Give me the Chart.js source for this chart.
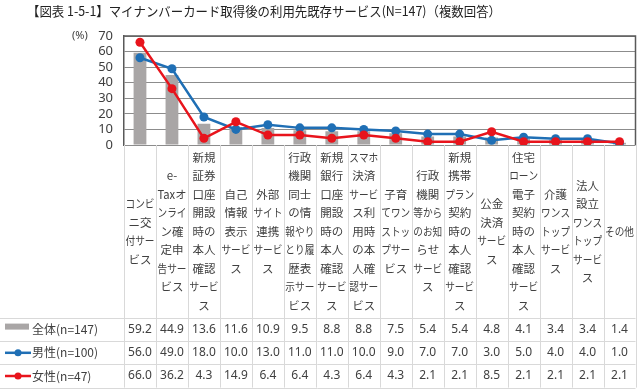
<!DOCTYPE html>
<html><head><meta charset="utf-8">
<script src="https://cdn.jsdelivr.net/npm/chart.js@4/dist/chart.umd.min.js"></script>
<style>html,body{margin:0;padding:0;background:#fff}</style>
</head><body>
<canvas id="c" width="640" height="389"></canvas>
<script>
const TITLE = '【図表 1-5-1】マイナンバーカード取得後の利用先既存サービス(N=147)（複数回答）';
const Y_UNIT = '(%)';
const categories = [
  ['コンビ','ニ交','付サー','ビス'],
  ['e-','Taxオ','ンライ','ン確','定申','告サー','ビス'],
  ['新規','証券','口座','開設','時の','本人','確認','サービ','ス'],
  ['自己','情報','表示','サービ','ス'],
  ['外部','サイト','連携','サービ','ス'],
  ['行政','機関','同士','の情','報やり','とり履','歴表','示サー','ビス'],
  ['新規','銀行','口座','開設','時の','本人','確認','サービ','ス'],
  ['スマホ','決済','サービ','ス利','用時','の本','人確','認サー','ビス'],
  ['子育','てワン','ストッ','プサー','ビス'],
  ['行政','機関','等から','のお知','らせ','サービ','ス'],
  ['新規','携帯','プラン','契約','時の','本人','確認','サービ','ス'],
  ['公金','決済','サービ','ス'],
  ['住宅','ローン','電子','契約','時の','本人','確認','サービ','ス'],
  ['介護','ワンス','トップ','サービ','ス'],
  ['法人','設立','ワンス','トップ','サービ','ス'],
  ['その他']
];
const seriesNames = ['全体(n=147)','男性(n=100)','女性(n=47)'];
const totalValues  = [59.2,44.9,13.6,11.6,10.9,9.5,8.8,8.8,7.5,5.4,5.4,4.8,4.1,3.4,3.4,1.4];
const maleValues   = [56.0,49.0,18.0,10.0,13.0,11.0,11.0,10.0,9.0,7.0,7.0,3.0,5.0,4.0,4.0,1.0];
const femaleValues = [66.0,36.2,4.3,14.9,6.4,6.4,4.3,6.4,4.3,2.1,2.1,8.5,2.1,2.1,2.1,2.1];
const yMin = 0, yMax = 70, yStep = 10;

const COL_BAR = '#a9a6a6', COL_BLUE = '#1f6fb5', COL_RED = '#e8141c';
const TEXT = '#404040', GRIDT = '#d9d9d9';
const NUMFONT = '"Noto Sans", "Noto Sans CJK JP", sans-serif';
const JPFONT = '"Noto Sans CJK JP", sans-serif';

const tablePlugin = {
  id: 'tablePlugin',
  afterDraw(chart) {
    const ctx = chart.ctx, ca = chart.chartArea, xs = chart.scales.x;
    const n = categories.length;
    const colW = (ca.right - ca.left) / n;
    const labelTop = ca.bottom, labelBottom = ca.bottom + 173;
    const rowH = 23.2;
    const rows = [labelBottom, labelBottom + rowH, labelBottom + 2*rowH, labelBottom + 3*rowH];
    ctx.save();
    // title
    ctx.fillStyle = '#222';
    ctx.font = '13px ' + JPFONT;
    ctx.textBaseline = 'middle'; ctx.textAlign = 'left';
    ctx.fillText(TITLE, 27, 11, 474);
    // unit
    ctx.fillStyle = TEXT;
    ctx.font = '11px ' + NUMFONT;
    ctx.fillText(Y_UNIT, 72, ca.top);
    // plot border
    ctx.strokeStyle = '#595959'; ctx.lineWidth = 1.5;
    ctx.beginPath();
    ctx.moveTo(ca.left, ca.top); ctx.lineTo(ca.right, ca.top); ctx.lineTo(ca.right, ca.bottom);
    ctx.stroke();
    // table grid
    ctx.strokeStyle = GRIDT; ctx.lineWidth = 1;
    ctx.beginPath();
    for (let i = 0; i <= n; i++) {
      const x = Math.round(ca.left + i*colW) + 0.5;
      ctx.moveTo(x, labelTop); ctx.lineTo(x, rows[3]);
    }
    rows.forEach(y => { const yy = Math.round(y) + 0.5; ctx.moveTo(0, yy); ctx.lineTo(ca.right, yy); });
    ctx.stroke();
    // category labels
    ctx.fillStyle = TEXT; ctx.textAlign = 'center'; ctx.textBaseline = 'middle';
    ctx.font = '11.5px ' + JPFONT;
    const lh = 18.5, mid = (labelTop + labelBottom) / 2;
    categories.forEach((lines, i) => {
      const cx = xs.getPixelForValue(i);
      lines.forEach((t, j) => ctx.fillText(t, cx, mid + (j - (lines.length - 1)/2) * lh, colW - 3));
    });
    // data rows
    const series = [totalValues, maleValues, femaleValues];
    ctx.font = '12px ' + NUMFONT;
    series.forEach((vals, r) => {
      const cy = (rows[r] + rows[r+1]) / 2;
      vals.forEach((v, i) => ctx.fillText(v.toFixed(1), xs.getPixelForValue(i), cy, colW - 3));
    });
    // legend keys
    ctx.textAlign = 'left';
    ctx.font = '12px ' + JPFONT;
    const keyColors = [COL_BAR, COL_BLUE, COL_RED];
    seriesNames.forEach((name, r) => {
      const cy = (rows[r] + rows[r+1]) / 2;
      if (r === 0) {
        ctx.fillStyle = COL_BAR; ctx.fillRect(5, cy - 6, 24, 6);
      } else {
        ctx.strokeStyle = keyColors[r]; ctx.lineWidth = 2.5;
        ctx.beginPath(); ctx.moveTo(5, cy); ctx.lineTo(31, cy); ctx.stroke();
        ctx.fillStyle = keyColors[r];
        ctx.beginPath(); ctx.arc(18, cy, 3.5, 0, Math.PI*2); ctx.fill();
      }
      ctx.fillStyle = TEXT;
      ctx.fillText(name, 32, cy);
    });
    ctx.restore();
  }
};

new Chart(document.getElementById('c'), {
  type: 'bar',
  data: {
    labels: categories.map(l => l.join('')),
    datasets: [
      { type: 'line', label: seriesNames[2], data: femaleValues, borderColor: COL_RED, backgroundColor: COL_RED,
        borderWidth: 2.5, pointRadius: 4.5, pointBackgroundColor: COL_RED, pointBorderWidth: 0, order: 0, tension: 0 },
      { type: 'line', label: seriesNames[1], data: maleValues, borderColor: COL_BLUE, backgroundColor: COL_BLUE,
        borderWidth: 2.5, pointRadius: 4.5, pointBackgroundColor: COL_BLUE, pointBorderWidth: 0, order: 1, tension: 0 },
      { type: 'bar', label: seriesNames[0], data: totalValues, backgroundColor: COL_BAR,
        barPercentage: 0.4, categoryPercentage: 1.0, order: 2 }
    ]
  },
  options: {
    responsive: false, animation: false, devicePixelRatio: 1,
    layout: { padding: { left: 0, right: 3, top: 36, bottom: 244 } },
    plugins: { legend: { display: false }, tooltip: { enabled: false }, title: { display: false } },
    scales: {
      x: { display: false, offset: true },
      y: {
        min: yMin, max: yMax,
        afterFit: s => { s.width = 124; },
        ticks: { stepSize: yStep, autoSkip: false, color: TEXT, padding: 11, font: { family: NUMFONT, size: 13 } },
        grid: { color: '#8c8c8c', lineWidth: 1, drawTicks: false },
        border: { display: true, color: '#595959', width: 1.5 }
      }
    }
  },
  plugins: [tablePlugin]
});
</script>
</body></html>
